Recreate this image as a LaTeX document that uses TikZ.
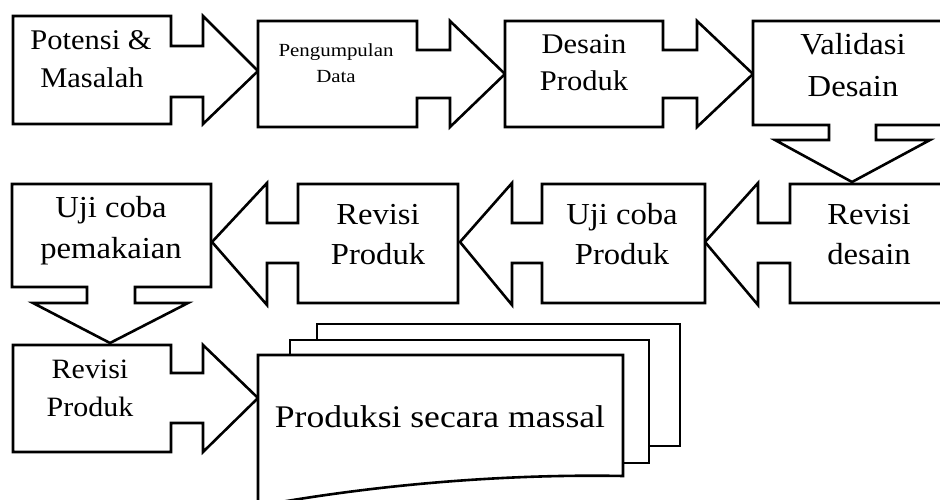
\documentclass[tikz,border=0pt]{standalone}
\usepackage{fontspec}
\setmainfont{Liberation Serif}[FakeStretch=1.07]
\newfontfamily\widefont{Liberation Serif}[FakeStretch=1.13]
\tikzset{
  blockshape/.style={draw=black, line width=2.6pt, fill=white, line join=miter},
  lblA/.style={anchor=base, inner sep=0pt, font=\fontsize{28.5}{32}\selectfont},
  lblB/.style={anchor=base, inner sep=0pt, font=\fontsize{30.5}{34}\selectfont},
  lblC/.style={anchor=base, inner sep=0pt, font=\fontsize{28}{32}\selectfont},
  lblS/.style={anchor=base, inner sep=0pt, font=\widefont\fontsize{18.5}{22}\selectfont},
  lblL/.style={anchor=base, inner sep=0pt, font=\widefont\fontsize{31.5}{34}\selectfont},
}
\begin{document}
\begin{tikzpicture}[x=1pt,y=-1pt]
\useasboundingbox (0,0) rectangle (940,500);
\clip (0,0) rectangle (940,500);
% Row 1
\draw[blockshape] (13,16) -- (171,16) -- (171,46) -- (203,46) -- (203,16) -- (258,71) -- (203,124) -- (203,97) -- (171,97) -- (171,124) -- (13,124) -- cycle;
\draw[blockshape] (258,21) -- (417,21) -- (417,50) -- (450,50) -- (450,21) -- (505,74) -- (450,127) -- (450,98) -- (417,98) -- (417,127) -- (258,127) -- cycle;
\draw[blockshape] (505,21) -- (663,21) -- (663,50) -- (697,50) -- (697,21) -- (753,74) -- (697,127) -- (697,98) -- (663,98) -- (663,127) -- (505,127) -- cycle;
\draw[blockshape] (753,21) -- (960,21) -- (960,125) -- (876,125) -- (876,140) -- (930,140) -- (852,182) -- (775,140) -- (829,140) -- (829,125) -- (753,125) -- cycle;
% Row 2
\draw[blockshape] (960,184) -- (790,184) -- (790,223) -- (758,223) -- (758,183) -- (705,242) -- (758,305) -- (758,263) -- (790,263) -- (790,303) -- (960,303) -- cycle;
\draw[blockshape] (705,184) -- (542,184) -- (542,223) -- (512,223) -- (512,183) -- (460,242) -- (512,305) -- (512,263) -- (542,263) -- (542,303) -- (705,303) -- cycle;
\draw[blockshape] (458,184) -- (298,184) -- (298,223) -- (267,223) -- (267,183) -- (212,242) -- (267,305) -- (267,263) -- (298,263) -- (298,303) -- (458,303) -- cycle;
\draw[blockshape] (12,184) -- (211,184) -- (211,287) -- (135,287) -- (135,303) -- (188,303) -- (110,343) -- (33,303) -- (87,303) -- (87,287) -- (12,287) -- cycle;
% Row 3
\draw[blockshape] (13,345) -- (171,345) -- (171,373) -- (203,373) -- (203,345) -- (258,398) -- (203,452) -- (203,423) -- (171,423) -- (171,452) -- (13,452) -- cycle;
\draw[blockshape] (317,324) rectangle (680,446);
\draw[blockshape] (290,340) rectangle (649,463);
\draw[blockshape] (258,355) -- (623,355) -- (623,476) .. controls (520,474) and (390,482) .. (258,506) -- cycle;
% Labels
\node[lblA] (t1a) at (91,50) {Potensi \&};
\node[lblA] (t1b) at (92,88) {Masalah};
\node[lblS] (t2a) at (336,57) {Pengumpulan};
\node[lblS] (t2b) at (336,83) {Data};
\node[lblA] (t3a) at (584,54) {Desain};
\node[lblA] (t3b) at (584,91) {Produk};
\node[lblB] (t4a) at (853,55) {Validasi};
\node[lblB] (t4b) at (853,97) {Desain};
\node[lblB] (t5a) at (869,224) {Revisi};
\node[lblB] (t5b) at (869,264) {desain};
\node[lblB] (t6a) at (622,224) {Uji coba};
\node[lblB] (t6b) at (622,264) {Produk};
\node[lblB] (t7a) at (378,224) {Revisi};
\node[lblB] (t7b) at (378,264) {Produk};
\node[lblB] (t8a) at (111,217) {Uji coba};
\node[lblB] (t8b) at (111,258) {pemakaian};
\node[lblC] (t9a) at (90,378) {Revisi};
\node[lblC] (t9b) at (90,416) {Produk};
\node[lblL] (t10) at (440,427) {Produksi secara massal};
\end{tikzpicture}
\end{document}
